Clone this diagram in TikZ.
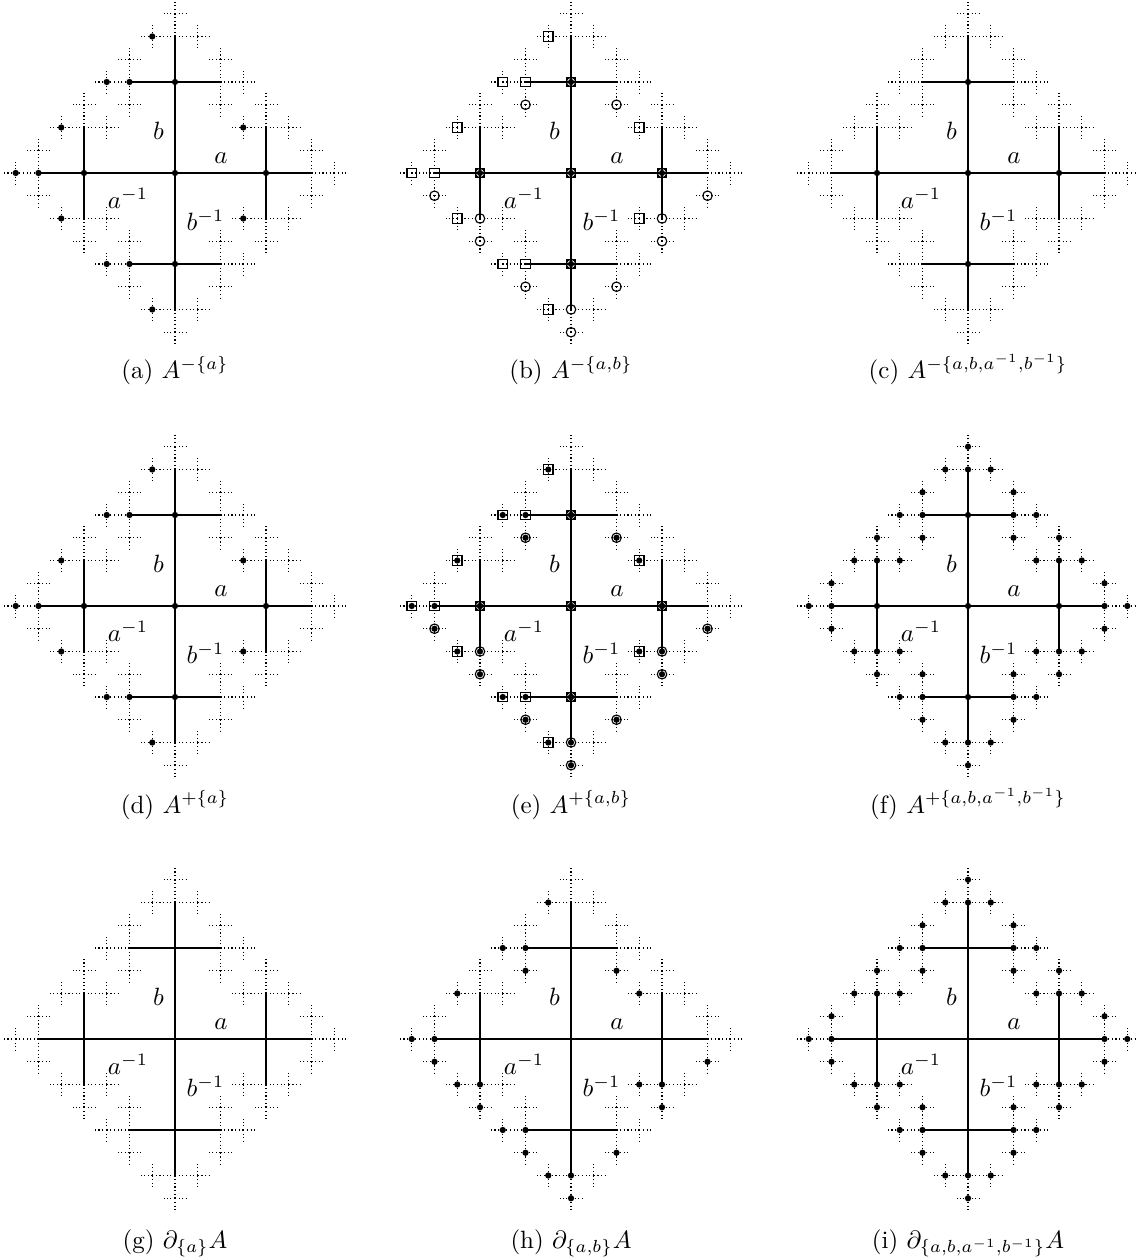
\documentclass[tikz,border=0pt]{standalone}
\usepackage{tikz}
\usetikzlibrary{calc}
\tikzset{
	tree edge/.style={line width=0.5pt},
	far edge/.style={densely dotted, line width=0.45pt},
	vtx/.style={circle, fill, inner sep=0pt, minimum size=2.5pt},
	sqmark/.style={rectangle, draw, inner sep=0pt, minimum size=3.8pt, line width=0.45pt},
	cimark/.style={circle, draw, inner sep=0pt, minimum size=3.8pt, line width=0.45pt},
}

% words in a, b, A = a^{-1}, B = b^{-1}, read from the centre e
\newcommand\growfrom[4]{%
	\ifnum#3<5
	\foreach \gen/\back/\dx/\dy in {a/A/1/0,A/a/-1/0,b/B/0/-1,B/b/0/1} {%
		\if\gen#2\else
			\ifnum#3<3 \def\edgestyle{tree edge}\else \def\edgestyle{far edge}\fi
			\pgfmathsetmacro\halflen{#4/2}%
			\edef\nextgrow{%
				\noexpand\draw[\edgestyle] (#1) -- ++(\dx*#4,\dy*#4) coordinate (#1\gen);
				\noexpand\growfrom{#1\gen}{\back}{\the\numexpr#3+1\relax}{\halflen}}%
			\nextgrow
		\fi
	}%
	\fi
}
\newcommand\markset[3]{\foreach \w in #3 {\node[#2] (#2#1\w) at (p#1-\w) {};}}

\newcommand\sqwords{e,ea,eA,eAA,eAAA,eb,ebA,ebAA,ebbA,eB,eBA,eBAA,eBBA,eabA,eaBA,eAbA,eABA}
\newcommand\ciwords{e,ea,eA,eb,eB,eBB,eBBB,eaB,eaBB,eaaB,eAB,eABB,eAAB,ebaB,ebAB,eBaB,eBAB}
\newcommand\corewords{e,ea,eA,eb,eB}
\newcommand\edgewords{eAA,eAAA,ebA,ebAA,ebbA,eBA,eBAA,eBBA,eabA,eaBA,eAbA,eABA,eBB,eBBB,eaB,eaBB,eaaB,eAB,eABB,eAAB,ebaB,ebAB,eBaB,eBAB}
\newcommand\wordstwo{eaa,eab,eaB,eAA,eAb,eAB,eba,ebA,ebb,eBa,eBA,eBB}
\newcommand\wordsthree{eaaa,eaab,eaaB,eaba,eabA,eabb,eaBa,eaBA,eaBB,eAAA,eAAb,eAAB,eAba,eAbA,eAbb,eABa,eABA,eABB,ebaa,ebab,ebaB,ebAA,ebAb,ebAB,ebba,ebbA,ebbb,eBaa,eBab,eBaB,eBAA,eBAb,eBAB,eBBa,eBBA,eBBB}

\begin{document}
\begin{tikzpicture}[x=0.4pt, y=-0.4pt]
\useasboundingbox (0,0) rectangle (1136,1257);

\foreach \p/\cx/\cy in {1/175/173,2/571/173,3/968/173,4/175/606,5/571/606,6/968/606,7/175/1039,8/571/1039,9/968/1039} {
	\coordinate (p\p-e) at (\cx,\cy);
	\growfrom{p\p-e}{x}{1}{91}
	\node (la\p) at ($(p\p-e)+(46,-15)$) {$a$};
	\node (lb\p) at ($(p\p-e)+(-16.5,-42.5)$) {$b$};
	\node (lA\p) at ($(p\p-e)+(-47,25)$) {$a^{-1}$};
	\node (lB\p) at ($(p\p-e)+(30.5,47)$) {$b^{-1}$};
}

% (a), (b), (c)
\markset{1}{vtx}{\sqwords}
\markset{2}{sqmark}{\sqwords}
\markset{2}{cimark}{\ciwords}
\markset{2}{vtx}{\corewords}
\markset{3}{vtx}{\corewords}
% (d), (e), (f)
\markset{4}{vtx}{\sqwords}
\markset{5}{sqmark}{\sqwords}
\markset{5}{cimark}{\ciwords}
\markset{5}{vtx}{\sqwords}
\markset{5}{vtx}{\ciwords}
\markset{6}{vtx}{\corewords}
\markset{6}{vtx}{\wordstwo}
\markset{6}{vtx}{\wordsthree}
% (h), (i)
\markset{8}{vtx}{\edgewords}
\markset{9}{vtx}{\wordstwo}
\markset{9}{vtx}{\wordsthree}

\node[anchor=base] (cap1) at (175,379) {(a) $A^{-\{a\}}$};
\node[anchor=base] (cap2) at (571,379) {(b) $A^{-\{a,b\}}$};
\node[anchor=base] (cap3) at (968,379) {(c) $A^{-\{a,b,a^{-1},b^{-1}\}}$};
\node[anchor=base] (cap4) at (175,813) {(d) $A^{+\{a\}}$};
\node[anchor=base] (cap5) at (571,813) {(e) $A^{+\{a,b\}}$};
\node[anchor=base] (cap6) at (968,813) {(f) $A^{+\{a,b,a^{-1},b^{-1}\}}$};
\node[anchor=base] (cap7) at (175,1248) {(g) $\partial_{\{a\}}A$};
\node[anchor=base] (cap8) at (571,1248) {(h) $\partial_{\{a,b\}}A$};
\node[anchor=base] (cap9) at (968,1248) {(i) $\partial_{\{a,b,a^{-1},b^{-1}\}}A$};
\end{tikzpicture}
\end{document}
